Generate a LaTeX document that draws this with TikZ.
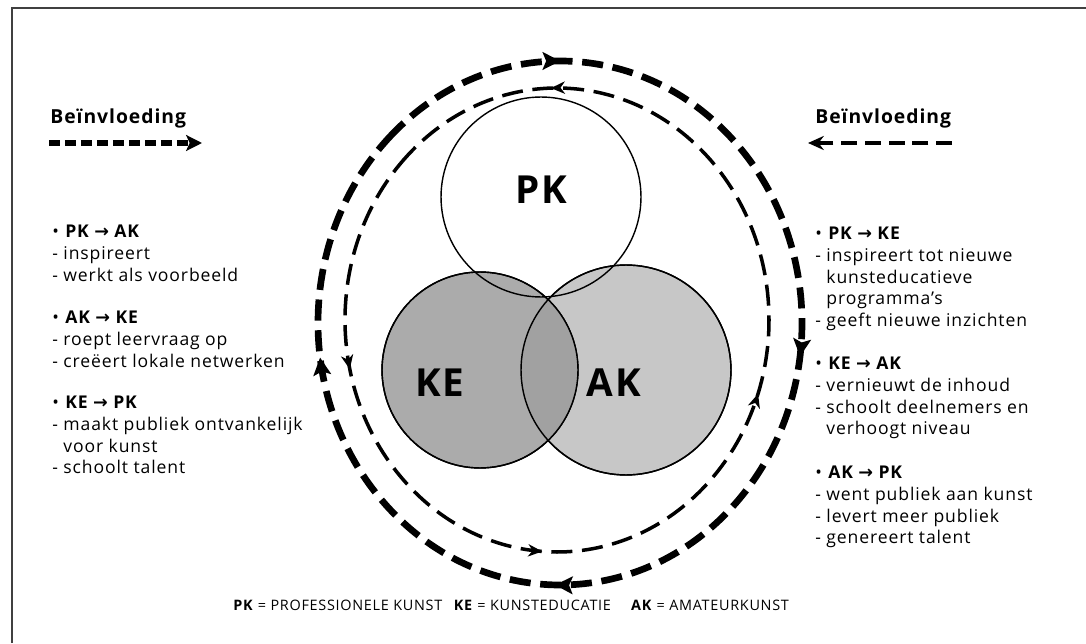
\documentclass[tikz,border=0pt]{standalone}
\usepackage{fontspec}
\setmainfont{Open Sans}[LetterSpace=5]
\newfontfamily\pijlfont{DejaVu Sans}
\usetikzlibrary{arrows.meta,decorations.markings}
\newcommand\pijl{{\pijlfont\bfseries →}}

\begin{document}
\begin{tikzpicture}[x=0.02cm, y=0.02cm]
\tikzset{venn/.style={draw, circle, inner sep=0pt, outer sep=0pt, line width=0.8pt},
  afk/.style={font=\fontsize{22}{26}\selectfont\bfseries},
  lijst/.style={anchor=north west, align=left, inner sep=0pt, font=\fontsize{10}{12.3}\selectfont},
  kop/.style={anchor=base west, inner sep=0pt, font=\fontsize{11}{13}\selectfont\bfseries},
  buitenring/.style={line width=3.8pt, dash pattern=on 12pt off 5.5pt},
  binnenring/.style={line width=2pt, dash pattern=on 12pt off 5.5pt},
  groot/.style={-{Stealth[length=9pt, width=9pt, inset=2pt]}},
  klein/.style={-{Stealth[length=9pt, width=8pt, inset=3pt]}}}
\useasboundingbox (0,0) rectangle (1086,643);
\draw[line width=1.2pt, black!75] (12,0) -- (12,635) -- (1086,635);

% de drie kringen
\node[venn, minimum size=4.2cm, fill=black!22] (ak) at (626,273) {};
\node[venn, minimum size=3.92cm, fill=black!33] (ke) at (480,273) {};
\begin{scope}
\clip (ke.center) circle (98);
\fill[black!37] (ak.center) circle (105);
\end{scope}
\node[venn, minimum size=3.92cm] at (ke.center) {};
\node[venn, minimum size=4.2cm] at (ak.center) {};
\node[venn, minimum size=4cm] (pk) at (541,446) {};
\node[afk] (pk-tekst) at (541,453) {PK};
\node[afk] (ke-tekst) at (440,260) {KE};
\node[afk] (ak-tekst) at (614,260) {AK};

% ringen met pijlen
\coordinate (buiten) at (560,320);
\coordinate (binnen) at (557,323);
\draw[buitenring, postaction={decorate}, decoration={markings,
  mark=at position 0.122 with {\arrow{Stealth[length=10pt, width=10pt, inset=2pt]}},
  mark=at position 0.393 with {\arrow{Stealth[length=10pt, width=10pt, inset=2pt]}},
  mark=at position 0.625 with {\arrow{Stealth[length=10pt, width=10pt, inset=2pt]}},
  mark=at position 0.850 with {\arrow{Stealth[length=10pt, width=10pt, inset=2pt]}}}]
  ([shift={(135:242 and 262)}]buiten) arc[start angle=135, end angle=-225, x radius=242, y radius=262];
\draw[binnenring, postaction={decorate}, decoration={markings,
  mark=at position 0.164 with {\arrow{Stealth[length=8pt, width=7pt, inset=2.5pt]}},
  mark=at position 0.368 with {\arrow{Stealth[length=8pt, width=7pt, inset=2.5pt]}},
  mark=at position 0.575 with {\arrow{Stealth[length=8pt, width=7pt, inset=2.5pt]}},
  mark=at position 0.883 with {\arrow{Stealth[length=8pt, width=7pt, inset=2.5pt]}}}]
  ([shift={(135:212 and 232)}]binnen) arc[start angle=135, end angle=495, x radius=212, y radius=232];

% legenda boven
\node[kop] (kop-links) at (50,519) {Beïnvloeding};
\coordinate (links-a) at (49,500);
\coordinate (links-b) at (202,500);
\draw[groot, line width=3.6pt, dash pattern=on 6.3pt off 2.8pt] (links-a) -- (links-b);
\node[kop] (kop-rechts) at (815,519) {Beïnvloeding};
\coordinate (rechts-a) at (952,500);
\coordinate (rechts-b) at (808,500);
\draw[klein, line width=1.8pt, dash pattern=on 9pt off 4.5pt] (rechts-a) -- (rechts-b);

% teksten links
\node[lijst] (pk-ak) at (52,418) {• \textbf{PK \pijl{} AK}\\- inspireert\\- werkt als voorbeeld};
\node[lijst] (ak-ke) at (52,332) {• \textbf{AK \pijl{} KE}\\- roept leervraag op\\- creëert lokale netwerken};
\node[lijst] (ke-pk) at (52,247) {• \textbf{KE \pijl{} PK}\\- maakt publiek ontvankelijk\\\hphantom{- }voor kunst\\- schoolt talent};

% teksten rechts
\node[lijst] (pk-ke) at (815,416) {• \textbf{PK \pijl{} KE}\\- inspireert tot nieuwe\\\hphantom{- }kunsteducatieve\\\hphantom{- }programma's\\- geeft nieuwe inzichten};
\node[lijst] (ke-ak) at (815,286) {• \textbf{KE \pijl{} AK}\\- vernieuwt de inhoud\\- schoolt deelnemers en\\\hphantom{- }verhoogt niveau};
\node[lijst] (ak-pk) at (815,177) {• \textbf{AK \pijl{} PK}\\- went publiek aan kunst\\- levert meer publiek\\- genereert talent};

% verklaring
\node[anchor=base west, inner sep=0pt, font=\fontsize{8.2}{10}\selectfont] (verklaring) at (233,32)
  {\textbf{PK} = PROFESSIONELE KUNST\hspace{4pt} \textbf{KE} = KUNSTEDUCATIE\hspace{9pt} \textbf{AK} = AMATEURKUNST};
\end{tikzpicture}
\end{document}
